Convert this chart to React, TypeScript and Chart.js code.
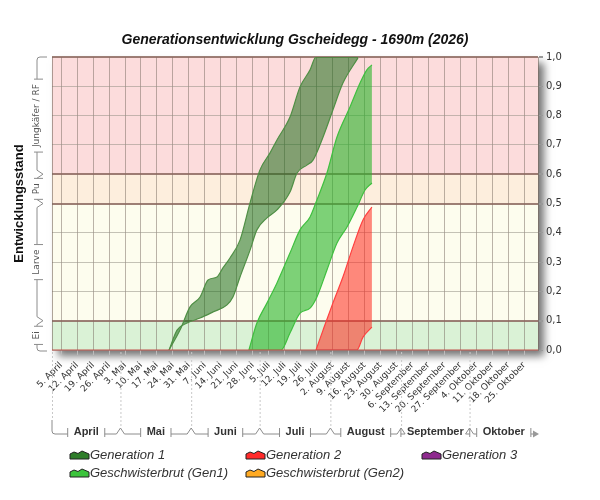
import React, { useEffect, useRef } from 'react';
import { Chart, registerables } from 'chart.js';

Chart.register(...registerables);

const chartTitle = 'Generationsentwicklung Gscheidegg - 1690m (2026)';
const yTitle = 'Entwicklungsstand';

// x values are days counted from 1 April (0) to 31 October (213)
const dayMax = 213;
const weekLabels = [
  '5. April', '12. April', '19. April', '26. April',
  '3. Mai', '10. Mai', '17. Mai', '24. Mai', '31. Mai',
  '7. Juni', '14. Juni', '21. Juni', '28. Juni',
  '5. Juli', '12. Juli', '19. Juli', '26. Juli',
  '2. August', '9. August', '16. August', '23. August', '30. August',
  '6. September', '13. September', '20. September', '27. September',
  '4. Oktober', '11. Oktober', '18. Oktober', '25. Oktober',
];
const weekDays = weekLabels.map((_, i) => 4 + 7 * i);
const monthNames = ['April', 'Mai', 'Juni', 'Juli', 'August', 'September', 'Oktober'];
const monthStartDays = [0, 30, 61, 91, 122, 153, 183];

const stageNames = ['Ei', 'Larve', 'Pu', 'Jungkäfer / RF'];
const stageBounds = [0, 0.1, 0.5, 0.6, 1.0];
const stageColors = ['#daf2d6', '#fdfdee', '#fdeedd', '#fcdcdc'];
const yTicks = [0, 0.1, 0.2, 0.3, 0.4, 0.5, 0.6, 0.7, 0.8, 0.9, 1.0];

const seriesNames = ['Generation 1', 'Generation 2', 'Generation 3', 'Geschwisterbrut (Gen1)', 'Geschwisterbrut (Gen2)'];
const seriesColors = ['#2f7d2a', '#ff2a2a', '#8e2a8e', '#3cc43c', '#ffaa22'];

// [day, stage] pairs: early edge and late edge of each band
const gen1Early: [number, number][] = [
  [51.3, 0], [56.1, 0.068], [60.5, 0.147], [64.9, 0.181], [68.4, 0.239], [72.3, 0.249],
  [74.9, 0.28], [78.0, 0.314], [82.4, 0.375], [86.8, 0.502], [91.1, 0.614], [95.5, 0.672],
  [98.6, 0.717], [104.3, 0.795], [108.7, 0.898], [113.1, 0.956], [115.7, 1.0], [134.1, 1.0],
];
const gen1Late: [number, number][] = [
  [51.3, 0], [54.8, 0.068], [59.2, 0.092], [64.9, 0.109], [70.6, 0.13], [76.7, 0.154],
  [79.3, 0.181], [82.4, 0.249], [86.8, 0.341], [89.8, 0.41], [94.2, 0.451], [98.6, 0.478],
  [104.3, 0.539], [107.4, 0.604], [111.7, 0.631], [114.4, 0.648], [118.8, 0.727],
  [123.1, 0.819], [127.5, 0.911], [134.1, 0.997],
];
const sib1Early: [number, number][] = [
  [86.3, 0], [89.8, 0.092], [94.2, 0.16], [98.6, 0.229], [104.3, 0.331], [108.7, 0.41],
  [113.1, 0.454], [116.1, 0.512], [120.5, 0.604], [124.9, 0.727], [130.6, 0.829],
  [135.0, 0.911], [138.0, 0.956], [140.2, 0.973],
];
const sib1Late: [number, number][] = [
  [86.3, 0], [100.4, 0], [104.3, 0.058], [108.7, 0.126], [113.1, 0.143], [116.1, 0.181], [120.5, 0.273],
  [124.9, 0.365], [129.3, 0.42], [133.7, 0.488], [137.2, 0.546], [140.2, 0.57],
];
const gen2Early: [number, number][] = [
  [115.7, 0], [118.8, 0.068], [123.1, 0.16], [127.5, 0.249], [131.9, 0.352], [136.3, 0.444], [140.2, 0.488],
];
const gen2Late: [number, number][] = [
  [115.7, 0], [133.6, 0], [136.3, 0.044], [140.2, 0.078],
];

const SANS = '"Liberation Sans", Arial, sans-serif';
const DEJA = '"DejaVu Sans", Verdana, sans-serif';

function band(early: [number, number][], late: [number, number][], name: string, line: string, fill: string) {
  const common = {
    borderColor: line,
    borderWidth: 1.2,
    pointRadius: 0,
    cubicInterpolationMode: 'monotone' as const,
  };
  return [
    { ...common, label: name, data: early.map(([x, y]) => ({ x, y })), fill: false },
    { ...common, label: name + ' (spät)', data: late.map(([x, y]) => ({ x, y })), fill: '-1', backgroundColor: fill },
  ];
}

function hBracket(ctx: CanvasRenderingContext2D, a: number, b: number, label: string, first: boolean, last: boolean) {
  const ly = 434;
  ctx.font = 'bold 11px ' + SANS;
  const w = ctx.measureText(label).width;
  const cx = (a + b) / 2;
  const gl = cx - w / 2 - 6;
  const gr = cx + w / 2 + 6;
  ctx.fillStyle = '#333';
  ctx.textAlign = 'center';
  ctx.textBaseline = 'middle';
  ctx.fillText(label, cx, ly - 2);
  ctx.strokeStyle = '#8c8c8c';
  ctx.lineWidth = 1;
  ctx.beginPath();
  if (first) {
    ctx.moveTo(a, ly - 14);
    ctx.lineTo(a, ly - 3);
    ctx.quadraticCurveTo(a, ly, a + 3, ly);
  } else {
    ctx.moveTo(a, ly - 6);
    ctx.lineTo(a + 4, ly);
  }
  ctx.lineTo(gl, ly);
  ctx.moveTo(gl, ly - 6);
  ctx.lineTo(gl, ly + 3);
  ctx.moveTo(gr, ly - 6);
  ctx.lineTo(gr, ly + 3);
  ctx.moveTo(gr, ly);
  ctx.lineTo(b - 4, ly);
  if (!last) ctx.lineTo(b, ly - 6);
  ctx.stroke();
  if (last) {
    ctx.fillStyle = '#999';
    ctx.beginPath();
    ctx.moveTo(b - 5, ly - 3.5);
    ctx.lineTo(b + 1, ly);
    ctx.lineTo(b - 5, ly + 3.5);
    ctx.closePath();
    ctx.fill();
  }
  // dotted guide up to the axis
  ctx.save();
  ctx.strokeStyle = '#c8c8c8';
  ctx.setLineDash([2, 2]);
  ctx.beginPath();
  ctx.moveTo(a + 0.5, 352);
  ctx.lineTo(a + 0.5, first ? ly - 14 : ly - 6);
  ctx.stroke();
  ctx.restore();
}

function vBracket(ctx: CanvasRenderingContext2D, a: number, b: number, label: string, first: boolean, last: boolean) {
  // a = bottom pixel, b = top pixel
  const lx = 37;
  ctx.font = '9px ' + DEJA;
  const w = ctx.measureText(label).width;
  const cy = (a + b) / 2;
  const gBot = cy + w / 2 + 5;
  const gTop = cy - w / 2 - 5;
  ctx.strokeStyle = '#8c8c8c';
  ctx.lineWidth = 1;
  ctx.beginPath();
  if (first) {
    ctx.moveTo(lx + 10, a + 1);
    ctx.lineTo(lx + 3, a + 1);
    ctx.quadraticCurveTo(lx, a + 1, lx, a - 2);
  } else {
    ctx.moveTo(lx + 6, a);
    ctx.lineTo(lx, a - 4);
  }
  ctx.lineTo(lx, gBot);
  ctx.moveTo(lx - 3, gBot);
  ctx.lineTo(lx + 6, gBot);
  ctx.moveTo(lx - 3, gTop);
  ctx.lineTo(lx + 6, gTop);
  ctx.moveTo(lx, gTop);
  if (last) {
    ctx.lineTo(lx, b + 3);
    ctx.quadraticCurveTo(lx, b, lx + 3, b);
    ctx.lineTo(lx + 10, b);
  } else {
    ctx.lineTo(lx, b + 4);
    ctx.lineTo(lx + 6, b);
  }
  ctx.stroke();
  ctx.save();
  ctx.translate(lx, cy);
  ctx.rotate(-Math.PI / 2);
  ctx.fillStyle = '#555';
  ctx.textAlign = 'center';
  ctx.textBaseline = 'middle';
  ctx.fillText(label, 0, 0);
  ctx.restore();
}

function legendIcon(ctx: CanvasRenderingContext2D, x: number, y: number, color: string) {
  ctx.beginPath();
  ctx.moveTo(x, y + 4);
  ctx.lineTo(x, y - 1);
  ctx.lineTo(x + 4, y - 3);
  ctx.lineTo(x + 8, y - 1.5);
  ctx.lineTo(x + 12, y - 4);
  ctx.lineTo(x + 19, y - 1);
  ctx.lineTo(x + 19, y + 4);
  ctx.closePath();
  ctx.fillStyle = color;
  ctx.fill();
  ctx.strokeStyle = '#222';
  ctx.lineWidth = 1;
  ctx.stroke();
}

const decor = {
  id: 'decor',
  beforeDraw(chart: any) {
    const { ctx, chartArea: a, scales } = chart;
    ctx.save();
    ctx.shadowColor = 'rgba(0,0,0,0.55)';
    ctx.shadowBlur = 8;
    ctx.shadowOffsetX = 6;
    ctx.shadowOffsetY = 6;
    ctx.fillStyle = '#fff';
    ctx.fillRect(a.left, a.top, a.right - a.left, a.bottom - a.top);
    ctx.shadowColor = 'transparent';
    stageColors.forEach((c, i) => {
      const top = scales.y.getPixelForValue(stageBounds[i + 1]);
      const bot = scales.y.getPixelForValue(stageBounds[i]);
      ctx.fillStyle = c;
      ctx.fillRect(a.left, top, a.right - a.left, bot - top);
    });
    ctx.restore();
  },
  afterDatasetsDraw(chart: any) {
    const { ctx, chartArea: a } = chart;
    ctx.save();
    ctx.strokeStyle = 'rgba(120,105,95,0.6)';
    ctx.beginPath();
    ctx.moveTo(a.left + 0.5, a.top);
    ctx.lineTo(a.left + 0.5, a.bottom);
    ctx.stroke();
    ctx.strokeStyle = '#c0504d';
    ctx.lineWidth = 1.2;
    ctx.beginPath();
    ctx.moveTo(a.left, a.bottom);
    ctx.lineTo(a.right, a.bottom);
    ctx.stroke();
    ctx.restore();
  },
  afterDraw(chart: any) {
    const { ctx, chartArea: a, scales } = chart;
    ctx.save();
    ctx.fillStyle = '#111';
    ctx.textAlign = 'center';
    ctx.textBaseline = 'middle';
    ctx.font = 'italic bold 14px ' + SANS;
    ctx.fillText(chartTitle, (a.left + a.right) / 2, 40);

    ctx.save();
    ctx.translate(19, (a.top + a.bottom) / 2);
    ctx.rotate(-Math.PI / 2);
    ctx.font = 'bold 13px ' + SANS;
    ctx.fillText(yTitle, 0, 0);
    ctx.restore();

    stageNames.forEach((name, i) => {
      vBracket(ctx, scales.y.getPixelForValue(stageBounds[i]), scales.y.getPixelForValue(stageBounds[i + 1]),
        name, i === 0, i === stageNames.length - 1);
    });
    monthNames.forEach((name, i) => {
      const end = i + 1 < monthStartDays.length ? monthStartDays[i + 1] : dayMax;
      hBracket(ctx, scales.x.getPixelForValue(monthStartDays[i]), scales.x.getPixelForValue(end),
        name, i === 0, i === monthNames.length - 1);
    });

    const cols = [70, 246, 422];
    const rows = [455, 473];
    seriesNames.forEach((name, k) => {
      const x = cols[k % 3];
      const y = rows[Math.floor(k / 3)];
      legendIcon(ctx, x, y, seriesColors[k]);
      ctx.font = 'italic 13px ' + SANS;
      ctx.fillStyle = '#333';
      ctx.textAlign = 'left';
      ctx.textBaseline = 'middle';
      ctx.fillText(name, x + 20, y);
    });
    ctx.restore();
  },
};

const boundaryTicks = [1, 5, 6, 10];

export default function App() {
  const canvasRef = useRef<HTMLCanvasElement | null>(null);

  useEffect(() => {
    document.body.style.margin = '0';
    const canvas = canvasRef.current;
    if (!canvas) return;
    const datasets: any[] = [
      ...band(gen1Early, gen1Late, seriesNames[0], '#4f8f45', 'rgba(30,110,25,0.55)'),
      ...band(sib1Early, sib1Late, seriesNames[3], '#3fbf3f', 'rgba(40,180,40,0.6)'),
      ...band(gen2Early, gen2Late, seriesNames[1], '#ff4040', 'rgba(255,40,30,0.55)'),
    ];
    const chart = new Chart(canvas, {
      type: 'line',
      data: { datasets },
      options: {
        animation: false,
        responsive: false,
        layout: { padding: { left: 52, top: 57, right: 0, bottom: 0 } },
        plugins: { legend: { display: false }, tooltip: { enabled: false } },
        scales: {
          x: {
            type: 'linear',
            min: 0,
            max: dayMax,
            afterBuildTicks: (s: any) => {
              s.ticks = weekDays.map((v) => ({ value: v }));
            },
            afterFit: (s: any) => {
              s.height = 150;
              s.paddingLeft = 0;
              s.paddingRight = 0;
            },
            border: { display: false },
            grid: { color: 'rgba(120,105,95,0.5)', tickLength: 5, tickColor: '#bbb' },
            ticks: {
              autoSkip: false,
              maxRotation: 45,
              minRotation: 45,
              padding: 5,
              color: '#333',
              font: { family: DEJA, size: 9 },
              callback: (v: any) => weekLabels[weekDays.indexOf(Number(v))] ?? '',
            },
          },
          y: {
            type: 'linear',
            position: 'right',
            min: 0,
            max: 1,
            afterBuildTicks: (s: any) => {
              s.ticks = yTicks.map((v) => ({ value: v }));
            },
            afterFit: (s: any) => {
              s.width = 62;
            },
            border: { color: 'rgba(120,105,95,0.6)' },
            grid: {
              color: (c: any) => boundaryTicks.includes(Math.round(c.tick.value * 10)) ? 'rgba(140,105,95,0.85)' : 'rgba(150,145,135,0.55)',
              lineWidth: (c: any) => boundaryTicks.includes(Math.round(c.tick.value * 10)) ? 2 : 1,
              tickLength: 5,
              tickColor: '#999',
            },
            ticks: {
              padding: 3,
              color: '#333',
              font: { family: DEJA, size: 10 },
              callback: (v: any) => Number(v).toFixed(1).replace('.', ','),
            },
          },
        },
      },
      plugins: [decor],
    });
    return () => chart.destroy();
  }, []);

  return <canvas ref={canvasRef} width={600} height={500} style={{ display: 'block' }} />;
}
